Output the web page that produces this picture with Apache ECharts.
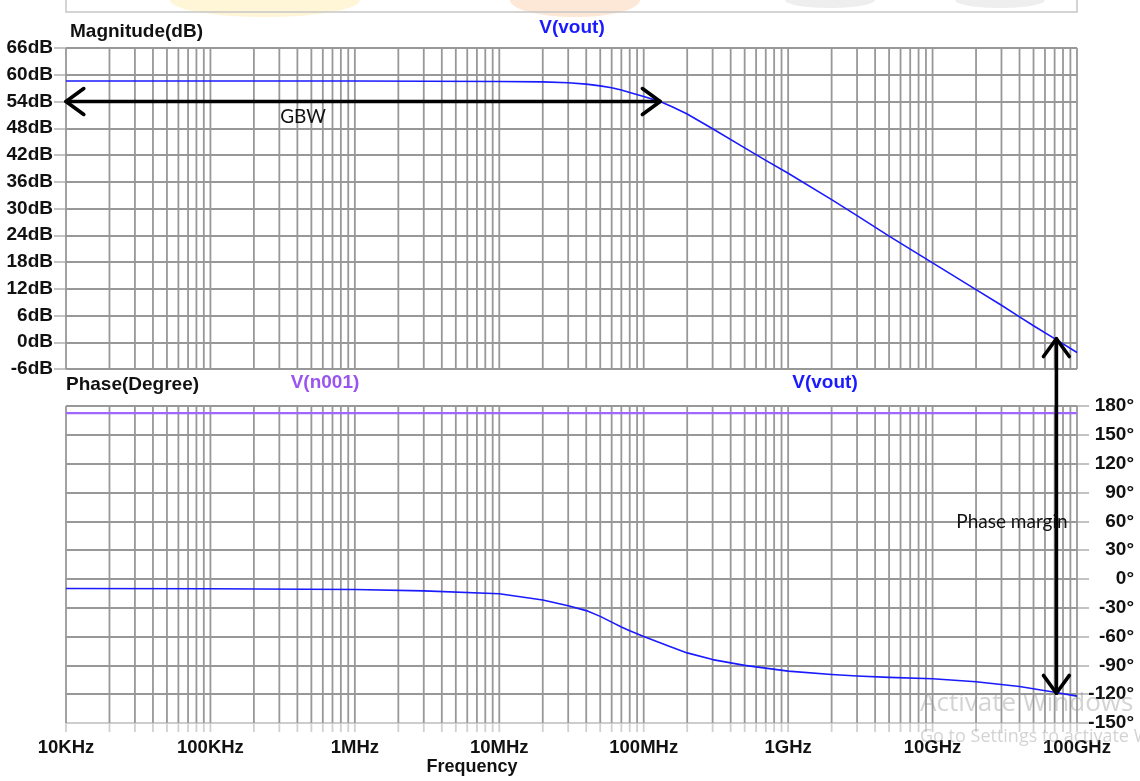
<!DOCTYPE html>
<html><head><meta charset="utf-8">
<script src="https://cdn.jsdelivr.net/npm/echarts@6/dist/echarts.min.js"></script>
<style>html,body{margin:0;padding:0;background:#fff}#c{width:1140px;height:781px}</style>
</head><body><div id="c"></div>
<script>
// ---- data ----
const DECADES = [1e4, 1e5, 1e6, 1e7, 1e8, 1e9, 1e10, 1e11];
const DECADE_LABELS = ['10KHz', '100KHz', '1MHz', '10MHz', '100MHz', '1GHz', '10GHz', '100GHz'];
const MINOR_MULT = [2, 3, 4, 5, 6, 7, 8, 9];

const MAG_FREQ = [1e4, 1e5, 1e6, 1e7, 2e7, 3e7, 4e7, 5e7, 6e7, 7e7, 8e7, 1e8, 1.3e8, 1.6e8, 2e8, 3e8, 5e8, 7e8, 1e9, 2e9, 3e9, 5e9, 1e10, 2e10, 3e10, 4e10, 5e10, 7e10, 1e11];
const MAG_DB   = [58.6, 58.6, 58.6, 58.5, 58.4, 58.2, 57.9, 57.5, 57.1, 56.6, 56.0, 55.1, 54.0, 52.7, 51.2, 47.9, 43.6, 40.8, 37.9, 32.0, 28.4, 23.8, 17.8, 11.8, 8.3, 5.7, 3.7, 0.8, -2.3];

const PH_FREQ = [1e4, 1e5, 1e6, 3e6, 1e7, 2e7, 3e7, 4e7, 5e7, 6e7, 7e7, 8e7, 1e8, 1.5e8, 2e8, 3e8, 5e8, 1e9, 2e9, 3e9, 5e9, 1e10, 2e10, 4e10, 7e10, 1e11];
const PH_DEG  = [-10, -10.3, -11, -12.5, -15.5, -22, -28, -33, -39, -45, -50, -54, -60, -70, -77, -84, -90, -96, -99.5, -101, -102.5, -104, -107, -112, -118, -122];

const IN_FREQ = [1e4, 1e11];
const IN_DEG  = [172.5, 172.5];

const MAG_MIN = -6, MAG_MAX = 66, MAG_STEP = 6;
const PH_MIN = -150, PH_MAX = 180, PH_STEP = 30;

const GBW_FREQ = 1.3e8, GBW_DB = 54;
const UGF = 7.2e10, UGF_DB = 0.8, UGF_PH = -119;

// ---- build ----
const GRID_FREQS = [];
DECADES.forEach((d, i) => {
  GRID_FREQS.push(d);
  if (i < DECADES.length - 1) MINOR_MULT.forEach(m => GRID_FREQS.push(d * m));
});
const zip = (a, b) => a.map((v, i) => [v, b[i]]);

const GRAY = '#989898';
const AXFONT = '"Liberation Sans", Arial, sans-serif';
const ANFONT = '19px Lato, "Noto Sans", sans-serif';

function vgrid(yMin, yMax, ext) {
  return function (params, api) {
    const f = api.value(0);
    const p1 = api.coord([f, yMax]);
    const p2 = api.coord([f, yMin]);
    const ch = [{ type: 'line', shape: { x1: p1[0], y1: p1[1], x2: p2[0], y2: p2[1] },
      style: { stroke: GRAY, lineWidth: 1.8 } }];
    if (ext) ch.push({ type: 'line', shape: { x1: p2[0], y1: p2[1], x2: p2[0], y2: p2[1] + 9 },
      style: { stroke: '#d0d0d0', lineWidth: 1.8 } });
    return { type: 'group', children: ch };
  };
}

const xBase = (gi, labels) => ({
  type: 'log', logBase: 10, gridIndex: gi, min: DECADES[0], max: DECADES[DECADES.length - 1],
  splitNumber: 7,
  axisLine: { show: false }, axisTick: { show: false }, splitLine: { show: false }, minorTick: { show: false },
  axisLabel: labels ? {
    show: true, customValues: DECADES, margin: 15,
    formatter: v => DECADE_LABELS[Math.round(Math.log10(v)) - 4],
    fontFamily: AXFONT, fontWeight: 'bold', fontSize: 18.5, color: '#111'
  } : { show: false }
});

const phSplitColors = [];
for (let v = PH_MIN; v <= PH_MAX; v += PH_STEP) phSplitColors.push(v === PH_MIN ? '#cdcdcd' : GRAY);

const chart = echarts.init(document.getElementById('c'), null, { renderer: 'canvas' });
chart.setOption({
  animation: false,
  backgroundColor: '#fff',
  grid: [
    { left: 66, right: 63, top: 48, height: 321 },
    { left: 66, right: 63, top: 406, height: 317 }
  ],
  xAxis: [xBase(0, false), xBase(1, true)],
  yAxis: [
    { type: 'value', gridIndex: 0, min: MAG_MIN, max: MAG_MAX, interval: MAG_STEP, position: 'left',
      axisLine: { show: false },
      axisTick: { show: true, length: 12, lineStyle: { color: '#bdbdbd', width: 1.8 } },
      splitLine: { show: true, lineStyle: { color: GRAY, width: 1.8 } },
      axisLabel: { formatter: '{value}dB', margin: 13, fontFamily: AXFONT, fontWeight: 'bold', fontSize: 19, color: '#111' } },
    { type: 'value', gridIndex: 1, min: PH_MIN, max: PH_MAX, interval: PH_STEP, position: 'right',
      axisLine: { show: false },
      axisTick: { show: true, length: 12, lineStyle: { color: '#bdbdbd', width: 1.8 } },
      splitLine: { show: true, lineStyle: { color: phSplitColors, width: 1.8 } },
      axisLabel: { formatter: '{value}°', align: 'right', margin: 57, fontFamily: AXFONT, fontWeight: 'bold', fontSize: 19, color: '#111' } }
  ],
  series: [
    { type: 'custom', xAxisIndex: 0, yAxisIndex: 0, z: 1, silent: true,
      renderItem: vgrid(MAG_MIN, MAG_MAX, false), encode: { x: 0, y: 1 },
      data: GRID_FREQS.map(f => [f, MAG_MIN]) },
    { type: 'custom', xAxisIndex: 1, yAxisIndex: 1, z: 1, silent: true,
      renderItem: vgrid(PH_MIN, PH_MAX, true), encode: { x: 0, y: 1 },
      data: GRID_FREQS.map(f => [f, PH_MIN]) },
    { name: 'V(vout)', type: 'line', xAxisIndex: 0, yAxisIndex: 0, z: 3, smooth: false, showSymbol: false,
      lineStyle: { color: '#1a1aff', width: 1.6, join: 'round' }, data: zip(MAG_FREQ, MAG_DB) },
    { name: 'V(n001)', type: 'line', xAxisIndex: 1, yAxisIndex: 1, z: 3, showSymbol: false,
      lineStyle: { color: '#a066ff', width: 2.2 }, data: zip(IN_FREQ, IN_DEG) },
    { name: 'V(vout) phase', type: 'line', xAxisIndex: 1, yAxisIndex: 1, z: 3, smooth: false, showSymbol: false,
      lineStyle: { color: '#1a1aff', width: 1.6, join: 'round' }, data: zip(PH_FREQ, PH_DEG) }
  ]
});

// ---- annotations ----
function head(tip, dir, L, ang) {
  const n = Math.hypot(dir[0], dir[1]);
  const dx = dir[0] / n, dy = dir[1] / n;
  const pts = [];
  [ang, -ang].forEach(a => {
    const c = Math.cos(a), s = Math.sin(a);
    const rx = dx * c - dy * s, ry = dx * s + dy * c;
    pts.push([tip[0] - rx * L, tip[1] - ry * L]);
  });
  return { type: 'polyline', z: 20, shape: { points: [pts[0], tip, pts[1]] },
    style: { stroke: '#000', lineWidth: 3.6, fill: null, lineCap: 'round', lineJoin: 'round' } };
}
function shaft(a, b) {
  return { type: 'line', z: 20, shape: { x1: a[0], y1: a[1], x2: b[0], y2: b[1] },
    style: { stroke: '#000', lineWidth: 3.6, lineCap: 'round' } };
}
function txt(t, x, y, font, fill, align) {
  return { type: 'text', z: 30, style: { text: t, x: x, y: y, font: font, fill: fill, align: align || 'left', verticalAlign: 'middle' } };
}

const gA = chart.convertToPixel({ gridIndex: 0 }, [DECADES[0], GBW_DB]);
const gB = chart.convertToPixel({ gridIndex: 0 }, [GBW_FREQ, GBW_DB]);
const pA = chart.convertToPixel({ gridIndex: 0 }, [UGF, UGF_DB]);
const pB = chart.convertToPixel({ gridIndex: 1 }, [UGF, UGF_PH]);
const ang = 36 * Math.PI / 180;
const BOLD = 'bold 19px ' + AXFONT;

chart.setOption({
  graphic: [
    // top faint window strip
    { type: 'ellipse', z: 0, shape: { cx: 265, cy: 0, rx: 95, ry: 17 }, style: { fill: 'rgba(255,226,140,0.35)' } },
    { type: 'ellipse', z: 0, shape: { cx: 575, cy: 0, rx: 65, ry: 17 }, style: { fill: 'rgba(250,185,140,0.35)' } },
    { type: 'ellipse', z: 0, shape: { cx: 830, cy: 0, rx: 45, ry: 8 }, style: { fill: 'rgba(200,200,200,0.3)' } },
    { type: 'ellipse', z: 0, shape: { cx: 1000, cy: 0, rx: 45, ry: 8 }, style: { fill: 'rgba(200,200,200,0.3)' } },
    { type: 'polyline', z: 1, shape: { points: [[66, 0], [66, 12], [1077, 12], [1077, 0]] },
      style: { stroke: '#c6c6c6', lineWidth: 1.5, fill: null } },
    // titles
    txt('Magnitude(dB)', 70, 32, BOLD, '#111'),
    txt('V(vout)', 572, 28, BOLD, '#1a1aff', 'center'),
    txt('Phase(Degree)', 66, 385, BOLD, '#111'),
    txt('V(n001)', 325, 383, BOLD, '#9a55f0', 'center'),
    txt('V(vout)', 825, 383, BOLD, '#1a1aff', 'center'),
    txt('Frequency', 472, 767, 'bold 18px ' + AXFONT, '#111', 'center'),
    // GBW arrow
    shaft(gA, gB),
    head(gA, [gA[0] - gB[0], 0], 22, ang),
    head(gB, [gB[0] - gA[0], 0], 22, ang),
    txt('GBW', 303, 117, ANFONT, '#111', 'center'),
    // phase margin arrow
    shaft(pA, pB),
    head(pA, [0, pA[1] - pB[1]], 22, ang),
    head(pB, [0, pB[1] - pA[1]], 22, ang),
    txt('Phase margin', 1012, 522, ANFONT, '#111', 'center'),
    // watermark
    txt('Activate Windows', 920, 704, '26px "Open Sans", "Noto Sans", sans-serif', 'rgba(150,150,150,0.42)'),
    txt('Go to Settings to activate Windows.', 920, 737, '18px "Open Sans", "Noto Sans", sans-serif', 'rgba(150,150,150,0.42)')
  ]
});
</script>
</body></html>
